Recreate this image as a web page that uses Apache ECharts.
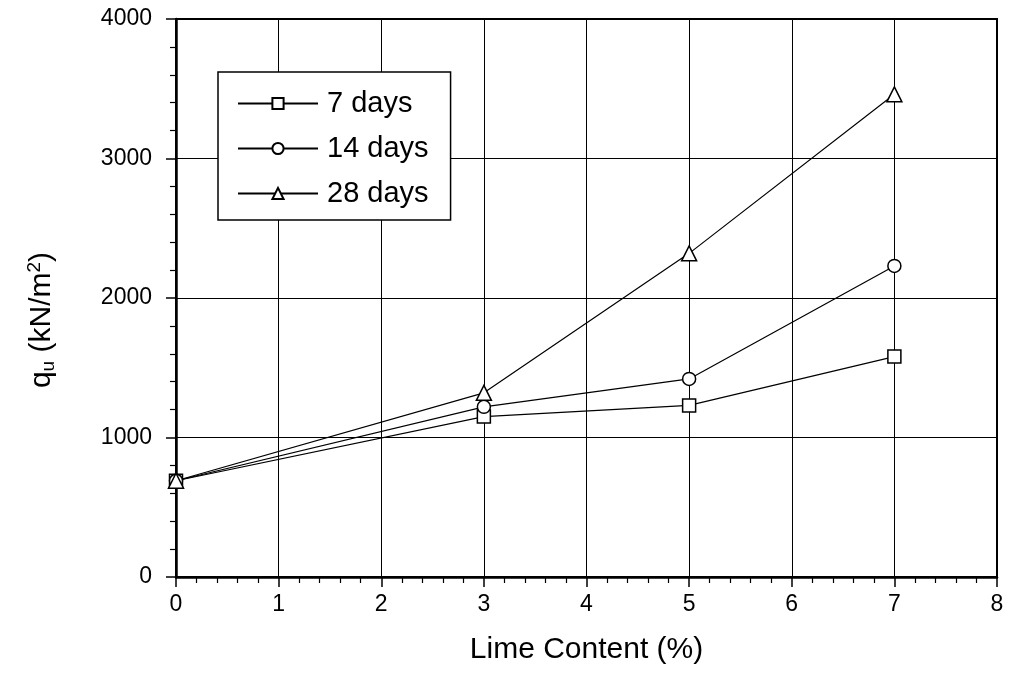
<!DOCTYPE html>
<html>
<head>
<meta charset="utf-8">
<script src="https://cdn.jsdelivr.net/npm/echarts@6/dist/echarts.min.js"></script>
<style>
  html, body { margin: 0; padding: 0; background: #fff; }
  #chart { width: 1017px; height: 675px; }
</style>
</head>
<body>
<div id="chart"></div>
<script>
const limeContent = [0, 3, 5, 7];
const days7 = [690, 1150, 1230, 1580];
const days14 = [690, 1220, 1420, 2230];
const days28 = [690, 1320, 2320, 3460];
const seriesNames = ["7 days", "14 days", "28 days"];

const font = "Liberation Sans, Arial, sans-serif";

function makeSeries(name, values, symbol) {
  return {
    name: name,
    type: "line",
    data: limeContent.map((x, i) => [x, values[i]]),
    symbol: symbol,
    symbolSize: symbol === "triangle" ? 15 : 13,
    lineStyle: { color: "#000", width: 1.2 },
    itemStyle: { color: "#fff", borderColor: "#000", borderWidth: 1.5 },
    emphasis: { disabled: true },
    z: 3,
  };
}

const chart = echarts.init(document.getElementById("chart"));
chart.setOption({
  animation: false,
  backgroundColor: "#fff",
  grid: {
    left: 176, right: 20, top: 19, bottom: 98,
    show: true, borderColor: "#000", borderWidth: 2,
  },
  legend: {
    orient: "vertical",
    left: 218, top: 72,
    padding: [17, 22, 12, 19],
    itemWidth: 80, itemHeight: 14, itemGap: 16,
    backgroundColor: "#fff",
    borderColor: "#000", borderWidth: 1.5,
    textStyle: { fontFamily: font, fontSize: 29, color: "#000", padding: [0, 0, 0, 4] },
    data: seriesNames,
  },
  xAxis: {
    type: "value",
    min: 0, max: 8, interval: 1,
    name: "Lime Content (%)",
    nameLocation: "middle", nameGap: 58,
    nameTextStyle: { fontFamily: font, fontSize: 30, color: "#000" },
    axisLine: { lineStyle: { color: "#000", width: 2.5 } },
    axisTick: { show: true, length: 10, lineStyle: { color: "#000", width: 1.5 } },
    minorTick: { show: true, splitNumber: 5, length: 6, lineStyle: { color: "#000", width: 1.2 } },
    axisLabel: { fontFamily: font, fontSize: 23, color: "#000", margin: 16 },
    splitLine: { show: true, lineStyle: { color: "#000", width: 1 } },
  },
  yAxis: {
    type: "value",
    min: 0, max: 4000, interval: 1000,
    name: "q{sub|u} (kN/m{sup|2})",
    nameLocation: "middle", nameGap: 118,
    nameTextStyle: {
      fontFamily: font, fontSize: 30, color: "#000",
      padding: [0, 44, 0, 0],
      rich: {
        sub: { fontFamily: font, fontSize: 19, color: "#000", verticalAlign: "bottom", padding: [10, 0, 0, 0] },
        sup: { fontFamily: font, fontSize: 19, color: "#000", verticalAlign: "top", padding: [0, 0, 14, 0] },
      },
    },
    axisLine: { show: true, lineStyle: { color: "#000", width: 2.5 } },
    axisTick: { show: true, length: 10, lineStyle: { color: "#000", width: 1.5 } },
    minorTick: { show: true, splitNumber: 5, length: 6, lineStyle: { color: "#000", width: 1.2 } },
    axisLabel: { fontFamily: font, fontSize: 23, color: "#000", margin: 24, formatter: (v) => String(v) },
    splitLine: { show: true, lineStyle: { color: "#000", width: 1 } },
  },
  series: [
    makeSeries(seriesNames[0], days7, "rect"),
    makeSeries(seriesNames[1], days14, "circle"),
    makeSeries(seriesNames[2], days28, "triangle"),
  ],
});
</script>
</body>
</html>
